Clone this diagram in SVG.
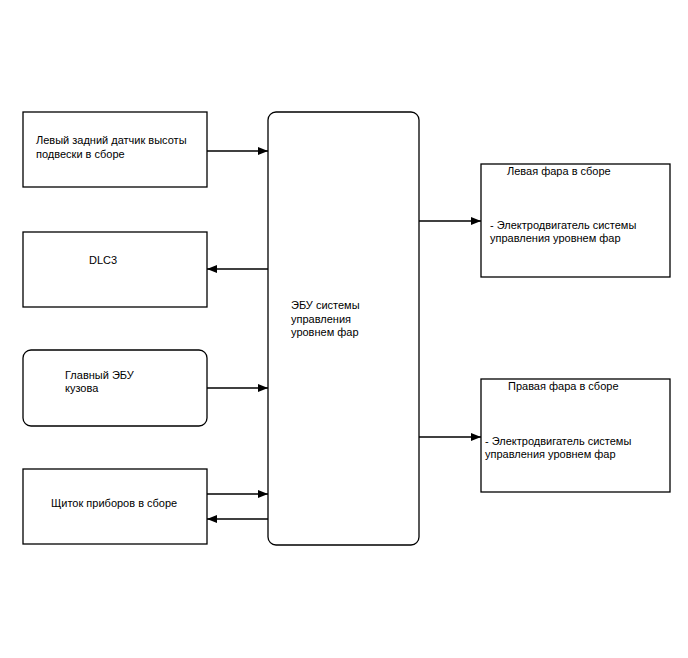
<svg xmlns="http://www.w3.org/2000/svg" width="688" height="658" viewBox="0 0 688 658">
<defs>
<marker id="ah" viewBox="0 0 10 8" refX="10" refY="4" markerWidth="10" markerHeight="8" markerUnits="userSpaceOnUse" orient="auto">
<path d="M0,0 L10,4 L0,8 Z" fill="#000"/>
</marker>
<style>
.box{fill:#fff;stroke:#000;stroke-width:1.3}
.t{font-family:"Liberation Sans",Arial,sans-serif;font-size:11px;fill:#000}
.c{fill:none;stroke:#000;stroke-width:1.3;marker-end:url(#ah)}
</style>
</defs>
<rect width="688" height="658" fill="#fff"/>
<g id="sensor">
<rect class="box" x="23" y="112" width="184" height="75"/>
<text class="t" x="36" y="144">Левый задний датчик высоты</text>
<text class="t" x="36" y="158">подвески в сборе</text>
</g>
<g id="dlc3">
<rect class="box" x="23" y="232" width="184" height="75"/>
<text class="t" x="89" y="264">DLC3</text>
</g>
<g id="body-ecu">
<rect class="box" x="23" y="350" width="184" height="76" rx="8"/>
<text class="t" x="65" y="379">Главный ЭБУ</text>
<text class="t" x="65" y="392">кузова</text>
</g>
<g id="meter">
<rect class="box" x="23" y="469" width="184" height="75"/>
<text class="t" x="51" y="507">Щиток приборов в сборе</text>
</g>
<g id="ecu">
<rect class="box" x="268" y="112" width="151" height="433" rx="8"/>
<text class="t" x="291" y="309">ЭБУ системы</text>
<text class="t" x="291" y="323">управления</text>
<text class="t" x="291" y="336">уровнем фар</text>
</g>
<g id="left-lamp">
<rect class="box" x="481" y="164" width="189" height="113"/>
<text class="t" x="507" y="175">Левая фара в сборе</text>
<text class="t" x="490" y="229">- Электродвигатель системы</text>
<text class="t" x="490" y="242">управления уровнем фар</text>
</g>
<g id="right-lamp">
<rect class="box" x="481" y="379" width="189" height="113"/>
<text class="t" x="508" y="390">Правая фара в сборе</text>
<text class="t" x="485" y="445">- Электродвигатель системы</text>
<text class="t" x="485" y="458">управления уровнем фар</text>
</g>
<g id="connectors">
<path class="c" d="M207,151 H268"/>
<path class="c" d="M268,269 H207"/>
<path class="c" d="M207,388 H268"/>
<path class="c" d="M207,494 H268"/>
<path class="c" d="M268,519 H207"/>
<path class="c" d="M419,221 H481"/>
<path class="c" d="M419,437 H481"/>
</g>
</svg>
